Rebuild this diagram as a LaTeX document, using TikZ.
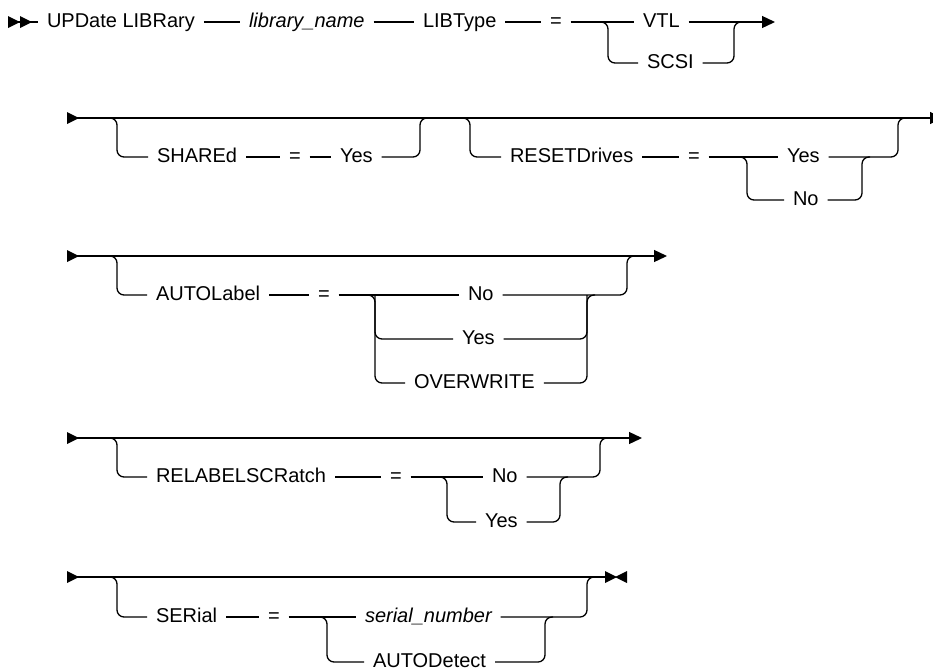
\documentclass[tikz,border=0pt]{standalone}
\usepackage{fontspec}
\setmainfont{Liberation Sans}
\usetikzlibrary{arrows.meta}

\begin{document}
\begin{tikzpicture}[
  x=1pt,y=-1pt,
  line width=1.3pt,
  font=\fontsize{20}{24}\selectfont,
  tok/.style={anchor=west,inner sep=0pt,outer xsep=9pt,outer ysep=0pt,
    text height=10pt,text depth=0pt},
  var/.style={tok,font=\fontsize{20}{24}\selectfont\itshape},
  loop/.style={rounded corners=7pt},
  endarrow/.style={-{Triangle[length=13pt,width=12pt]}},
  headtri/.pic={\fill (0,-6) -- (12,0) -- (0,6) -- cycle;}
]
  \useasboundingbox (0,0) rectangle (933,670);
  \clip (0,0) rectangle (933,670);

  % row 1
  \coordinate (r1s) at (8,22);
  \coordinate (v1a) at (608,22);
  \coordinate (v1b) at (734,22);
  \coordinate (r1e) at (775,22);
  \node[tok] (upd) at (38,22) {UPDate LIBRary};
  \node[var] (libname) at (240,22) {library\_name};
  \node[tok] (libtype) at (414,22) {LIBType};
  \node[tok] (eq1) at (541,22) {=};
  \node[tok] (vtl) at (634,22) {VTL};
  \node[tok] (scsi) at (638,63) {SCSI};
  \path (r1s) pic {headtri} ++(12,0) pic {headtri};
  \draw (r1s) -- (upd);
  \draw (upd) -- (libname) (libname) -- (libtype) (libtype) -- (eq1) (eq1) -- (vtl);
  \draw[endarrow] (vtl) -- (r1e);
  \draw[loop] (scsi) -| (v1a) -- ++(-8,0);
  \draw[loop] (scsi) -| (v1b) -- ++(8,0);

  % row 2
  \coordinate (r2s) at (67,118);
  \coordinate (r2e) at (943,118);
  \coordinate (g2a) at (117,118);
  \coordinate (g2b) at (420,118);
  \coordinate (g3a) at (470,118);
  \coordinate (g3b) at (898,118);
  \coordinate (c3a) at (747,157);
  \coordinate (c3b) at (862,157);
  \node[tok] (shared) at (148,157) {SHAREd};
  \node[tok] (eq2) at (280,157) {=};
  \node[tok] (yes2) at (331,157) {Yes};
  \node[tok] (resetd) at (501,157) {RESETDrives};
  \node[tok] (eq3) at (679,157) {=};
  \node[tok] (yes3) at (778,157) {Yes};
  \node[tok] (no3) at (784,200) {No};
  \path (r2s) pic {headtri};
  \draw[endarrow] (r2s) -- (r2e);
  \draw (shared) -- (eq2) (eq2) -- (yes2);
  \draw[loop] (shared) -| (g2a) -- ++(-9,0);
  \draw[loop] (yes2) -| (g2b) -- ++(9,0);
  \draw (resetd) -- (eq3) (eq3) -- (yes3);
  \draw[loop] (resetd) -| (g3a) -- ++(-8,0);
  \draw[loop] (yes3) -| (g3b) -- ++(9,0);
  \draw[loop] (no3) -| (c3a) -- ++(-8,0);
  \draw[loop] (no3) -| (c3b) -- ++(8,0);

  % row 3
  \coordinate (r3s) at (67,256);
  \coordinate (r3e) at (667,256);
  \coordinate (g4a) at (117,256);
  \coordinate (g4b) at (627,256);
  \coordinate (c4a) at (375,295);
  \coordinate (c4b) at (587,295);
  \node[tok] (autol) at (147,295) {AUTOLabel};
  \node[tok] (eq4) at (309,295) {=};
  \node[tok] (no4) at (459,295) {No};
  \node[tok] (yes4) at (453,339) {Yes};
  \node[tok] (over4) at (405,383) {OVERWRITE};
  \path (r3s) pic {headtri};
  \draw[endarrow] (r3s) -- (r3e);
  \draw (autol) -- (eq4) (eq4) -- (no4);
  \draw[loop] (autol) -| (g4a) -- ++(-9,0);
  \draw[loop] (no4) -| (g4b) -- ++(9,0);
  \draw[loop] (yes4) -| (c4a);
  \draw[loop] (yes4) -| (c4b);
  \draw[loop] (over4) -| (c4a) -- ++(-8,0);
  \draw[loop] (over4) -| (c4b) -- ++(8,0);

  % row 4
  \coordinate (r4s) at (67,438);
  \coordinate (r4e) at (642,438);
  \coordinate (g5a) at (117,438);
  \coordinate (g5b) at (600,438);
  \coordinate (c5a) at (447,477);
  \coordinate (c5b) at (560,477);
  \node[tok] (relab) at (147,477) {RELABELSCRatch};
  \node[tok] (eq5) at (381,477) {=};
  \node[tok] (no5) at (483,477) {No};
  \node[tok] (yes5) at (476,522) {Yes};
  \path (r4s) pic {headtri};
  \draw[endarrow] (r4s) -- (r4e);
  \draw (relab) -- (eq5) (eq5) -- (no5);
  \draw[loop] (relab) -| (g5a) -- ++(-9,0);
  \draw[loop] (no5) -| (g5b) -- ++(9,0);
  \draw[loop] (yes5) -| (c5a) -- ++(-8,0);
  \draw[loop] (yes5) -| (c5b) -- ++(8,0);

  % row 5
  \coordinate (r5s) at (67,577);
  \coordinate (r5e) at (605,577);
  \coordinate (r5x) at (627,577);
  \coordinate (g6a) at (117,577);
  \coordinate (g6b) at (587,577);
  \coordinate (c6a) at (327,617);
  \coordinate (c6b) at (545,617);
  \node[tok] (serial) at (147,617) {SERial};
  \node[tok] (eq6) at (259,617) {=};
  \node[var] (sernum) at (356,617) {serial\_number};
  \node[tok] (autod) at (364,662) {AUTODetect};
  \path (r5s) pic {headtri};
  \draw (r5s) -- (r5e);
  \pic at (r5e) {headtri};
  \pic[rotate=180] at (r5x) {headtri};
  \draw (serial) -- (eq6) (eq6) -- (sernum);
  \draw[loop] (serial) -| (g6a) -- ++(-9,0);
  \draw[loop] (sernum) -| (g6b) -- ++(8,0);
  \draw[loop] (autod) -| (c6a) -- ++(-8,0);
  \draw[loop] (autod) -| (c6b) -- ++(8,0);
\end{tikzpicture}
\end{document}
